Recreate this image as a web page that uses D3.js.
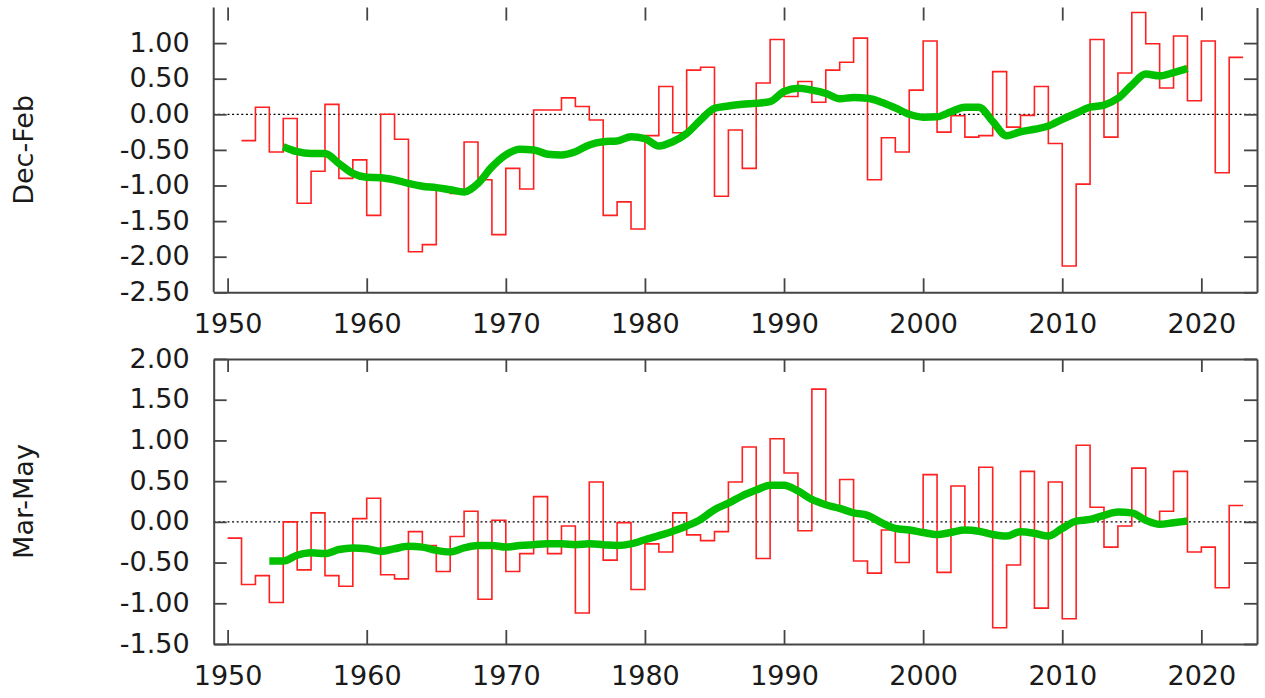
<!DOCTYPE html>
<html>
<head>
<meta charset="utf-8">
<script src="https://cdn.jsdelivr.net/npm/d3@7"></script>
<style>
  html, body { margin: 0; padding: 0; background: #fff; }
  svg { display: block; }
  text { font-family: "DejaVu Sans", sans-serif; fill: #1a1a1a; }
</style>
</head>
<body>
<svg id="chart" width="1265" height="698"></svg>
<script>
// Seasonal anomalies, one value per year, plus the smoothed trend.
const djfYears = d3.range(1951, 2023);
const djfValues = [
  -0.37, 0.10, -0.53, -0.06, -1.25, -0.80, 0.14, -0.90, -0.64, -1.42,
  0.00, -0.35, -1.93, -1.83, -1.03, -1.11, -0.39, -0.92, -1.69, -0.76,
  -1.05, 0.06, 0.06, 0.23, 0.11, -0.08, -1.42, -1.23, -1.61, -0.30,
  0.39, -0.26, 0.62, 0.66, -1.15, -0.22, -0.76, 0.44, 1.05, 0.25,
  0.46, 0.17, 0.62, 0.73, 1.07, -0.92, -0.33, -0.53, 0.34, 1.03,
  -0.25, -0.02, -0.32, -0.30, 0.60, -0.18, -0.015, 0.39, -0.41, -2.13,
  -0.98, 1.05, -0.32, 0.58, 1.43, 0.99, 0.37, 1.10, 0.19, 1.03,
  -0.82, 0.80
];
const djfSmoothYears = d3.range(1954, 2020);
const djfSmooth = [
  -0.455, -0.525, -0.55, -0.55, -0.69, -0.83, -0.885, -0.89, -0.92, -0.97,
  -1.01, -1.03, -1.06, -1.09, -0.97, -0.74, -0.57, -0.49, -0.50, -0.56,
  -0.57, -0.525, -0.43, -0.385, -0.375, -0.315, -0.34, -0.445, -0.385, -0.27,
  -0.08, 0.085, 0.117, 0.14, 0.155, 0.177, 0.32, 0.365, 0.34, 0.295,
  0.22, 0.235, 0.225, 0.17, 0.09, 0.0, -0.04, -0.035, 0.035, 0.10,
  0.10, -0.10, -0.30, -0.245, -0.21, -0.165, -0.07, 0.015, 0.10, 0.13,
  0.225, 0.41, 0.565, 0.54, 0.585, 0.645
];

const mamYears = d3.range(1950, 2023);
const mamValues = [
  -0.20, -0.77, -0.66, -0.99, 0.00, -0.59, 0.11, -0.66, -0.79, 0.04,
  0.29, -0.65, -0.70, -0.12, -0.29, -0.61, -0.18, 0.13, -0.95, 0.02,
  -0.61, -0.39, 0.31, -0.39, -0.05, -1.12, 0.49, -0.47, -0.01, -0.83,
  -0.27, -0.37, 0.11, -0.16, -0.23, -0.12, 0.49, 0.92, -0.45, 1.02,
  0.60, -0.11, 1.63, 0.18, 0.52, -0.48, -0.63, -0.10, -0.50, -0.14,
  0.58, -0.62, 0.44, -0.11, 0.67, -1.30, -0.53, 0.62, -1.06, 0.49,
  -1.19, 0.94, 0.18, -0.31, -0.05, 0.66, -0.01, 0.13, 0.62, -0.37,
  -0.31, -0.81, 0.20
];
const mamSmoothYears = d3.range(1953, 2020);
const mamSmooth = [
  -0.48, -0.48, -0.41, -0.38, -0.39, -0.34, -0.32, -0.33, -0.36, -0.33,
  -0.30, -0.31, -0.35, -0.37, -0.32, -0.29, -0.29, -0.31, -0.29, -0.28,
  -0.27, -0.27, -0.28, -0.27, -0.28, -0.29, -0.27, -0.22, -0.17, -0.115,
  -0.05, 0.03, 0.15, 0.23, 0.32, 0.39, 0.45, 0.45, 0.38, 0.275,
  0.21, 0.165, 0.11, 0.08, -0.01, -0.08, -0.10, -0.13, -0.155, -0.13,
  -0.10, -0.115, -0.155, -0.175, -0.12, -0.14, -0.175, -0.08, 0.01, 0.03,
  0.08, 0.12, 0.11, 0.02, -0.03, -0.01, 0.01
];

const xTicks = [1950, 1960, 1970, 1980, 1990, 2000, 2010, 2020];
const djfTicks = [1.5, 1.0, 0.5, 0.0, -0.5, -1.0, -1.5, -2.0, -2.5];
const mamTicks = [2.0, 1.5, 1.0, 0.5, 0.0, -0.5, -1.0, -1.5];

const svg = d3.select("#chart");
// plain hyphen-minus for negative labels
const fmt = v => d3.format(".2f")(v).replace("\u2212", "-");
const frameColor = "#454545";

const x = d3.scaleLinear().domain([1949, 2024]).range([213.7, 1257]);

function panel(opts) {
  const { title, years, values, sYears, sValues, domain, top, bottom, ticks, hideTop } = opts;
  const y = d3.scaleLinear().domain(domain).range([bottom, top]);
  const g = svg.append("g");

  // zero reference line
  g.append("line")
    .attr("x1", x.range()[0]).attr("x2", x.range()[1])
    .attr("y1", y(0)).attr("y2", y(0))
    .attr("stroke", "#000").attr("stroke-width", 1.3)
    .attr("stroke-dasharray", "2,2.6");

  // yearly values as steps spanning each year
  const stepPts = years.map((yr, i) => [yr, values[i]]);
  stepPts.push([years[years.length - 1] + 1, values[values.length - 1]]);
  g.append("path")
    .datum(stepPts)
    .attr("fill", "none")
    .attr("stroke", "#ff2020")
    .attr("stroke-width", 1.6)
    .attr("d", d3.line().x(d => x(d[0])).y(d => y(d[1])).curve(d3.curveStepAfter));

  // smoothed trend
  g.append("path")
    .datum(sYears.map((yr, i) => [yr, sValues[i]]))
    .attr("fill", "none")
    .attr("stroke", "#00c000")
    .attr("stroke-width", 7.5)
    .attr("stroke-linejoin", "round")
    .attr("d", d3.line().x(d => x(d[0])).y(d => y(d[1])).curve(d3.curveMonotoneX));

  const styleAxis = sel => {
    sel.selectAll("path.domain").attr("stroke", frameColor).attr("stroke-width", 2);
    sel.selectAll(".tick line").attr("stroke", frameColor).attr("stroke-width", 1.8);
    sel.selectAll(".tick text").style("font-size", "27px").attr("fill", "#1a1a1a");
  };

  // left axis with labels
  const shownTicks = hideTop ? ticks.filter(t => t < domain[1]) : ticks;
  const left = g.append("g").attr("transform", `translate(${x.range()[0]},0)`)
    .call(d3.axisLeft(y).tickValues(shownTicks).tickFormat(fmt).tickSize(-13).tickSizeOuter(0).tickPadding(24));
  left.selectAll(".tick text").attr("dy", "0.30em");
  styleAxis(left);
  if (hideTop) left.select("path.domain").attr("d", `M0,${top}V${bottom}`);

  // right mirror axis
  const right = g.append("g").attr("transform", `translate(${x.range()[1]},0)`)
    .call(d3.axisRight(y).tickValues(shownTicks).tickFormat("").tickSize(-13).tickSizeOuter(0));
  styleAxis(right);

  // bottom axis with labels
  const bottomAxis = g.append("g").attr("transform", `translate(0,${bottom})`)
    .call(d3.axisBottom(x).tickValues(xTicks).tickFormat(d3.format("d")).tickSize(-14).tickSizeOuter(0).tickPadding(22));
  styleAxis(bottomAxis);

  // top mirror axis
  const topAxis = g.append("g").attr("transform", `translate(0,${top})`)
    .call(d3.axisTop(x).tickValues(xTicks).tickFormat("").tickSize(-13).tickSizeOuter(0));
  styleAxis(topAxis);
  if (hideTop) topAxis.select("path.domain").remove();

  // panel title
  g.append("text")
    .attr("transform", `translate(33,${(top + bottom) / 2}) rotate(-90)`)
    .attr("text-anchor", "middle")
    .style("font-size", "27px")
    .text(title);
}

panel({
  title: "Dec-Feb", years: djfYears, values: djfValues,
  sYears: djfSmoothYears, sValues: djfSmooth,
  domain: [-2.5, 1.5], top: 7.5, bottom: 292.3, ticks: djfTicks, hideTop: true
});

panel({
  title: "Mar-May", years: mamYears, values: mamValues,
  sYears: mamSmoothYears, sValues: mamSmooth,
  domain: [-1.5, 2.0], top: 359, bottom: 644, ticks: mamTicks, hideTop: false
});
</script>
</body>
</html>
